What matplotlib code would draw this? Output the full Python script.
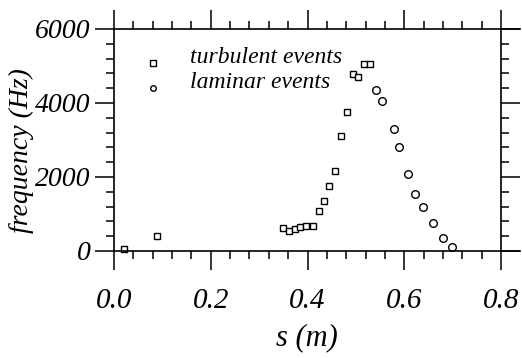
import matplotlib
matplotlib.use("Agg")
import matplotlib.pyplot as plt
from matplotlib.ticker import MultipleLocator

# ---- data ----
turb_s = [0.021, 0.088, 0.350, 0.362, 0.374, 0.385, 0.397, 0.412, 0.424, 0.434,
          0.445, 0.457, 0.469, 0.481, 0.493, 0.504, 0.516, 0.528]
turb_f = [50, 410, 610, 550, 600, 640, 685, 685, 1090, 1355,
          1765, 2170, 3115, 3765, 4775, 4695, 5065, 5065]
lam_s = [0.542, 0.553, 0.578, 0.589, 0.607, 0.623, 0.639, 0.660, 0.679, 0.699]
lam_f = [4350, 4060, 3290, 2820, 2080, 1540, 1180, 765, 360, 100]

xticks = [0.0, 0.2, 0.4, 0.6, 0.8]
xticklabels = ["0.0", "0.2", "0.4", "0.6", "0.8"]
yticks = [0, 2000, 4000, 6000]
yticklabels = ["0", "2000", "4000", "6000"]
legend_labels = ["turbulent events", "laminar events"]
xlabel = "s (m)"
ylabel = "frequency (Hz)"

FONT = "Liberation Serif"
W, H = 522, 358
fig = plt.figure(figsize=(W / 100, H / 100), dpi=100)
ax = fig.add_axes([114 / W, 1 - 251 / H, 406 / W, 222 / H])

XMAX = 0.839
ax.set_xlim(0, XMAX)
ax.set_ylim(0, 6000)

mk = dict(linestyle="none", markerfacecolor="white", markeredgecolor="black",
          markeredgewidth=1.0, clip_on=False)
ax.plot(turb_s, turb_f, marker="s", markersize=5.0, **mk)
ax.plot(lam_s, lam_f, marker="o", markersize=5.5, **mk)

# spines
for side in ["left", "top", "bottom"]:
    ax.spines[side].set_linewidth(1.2)
ax.spines["right"].set_visible(False)

ax.set_xticks(xticks)
ax.set_xticklabels(xticklabels)
ax.set_yticks(yticks)
ax.set_yticklabels(yticklabels)
ax.xaxis.set_minor_locator(MultipleLocator(0.04))
ax.yaxis.set_minor_locator(MultipleLocator(400))
ax.tick_params(which="both", direction="out", top=True, right=False, width=1.1)
ax.tick_params(which="major", length=14)
ax.tick_params(which="minor", length=6)
ax.tick_params(axis="x", which="major", pad=13)
ax.tick_params(axis="y", which="major", pad=3)

for lab in ax.get_xticklabels():
    lab.set_fontfamily(FONT); lab.set_fontstyle("italic"); lab.set_fontsize(21)
for lab in ax.get_yticklabels():
    lab.set_fontfamily(FONT); lab.set_fontstyle("italic"); lab.set_fontsize(20)

# right axis at x = 0.8 (the horizontal lines run past it)
sec = ax.secondary_yaxis(0.8 / XMAX)
sec.set_yticks(yticks)
sec.yaxis.set_minor_locator(MultipleLocator(400))
sec.tick_params(which="both", direction="out", labelright=False, width=1.1)
sec.tick_params(which="major", length=14)
sec.tick_params(which="minor", length=6)
sec.spines["right"].set_linewidth(1.2)
sec.set_yticklabels([])

# legend drawn by hand
leg_y = [0.847, 0.734]
ax.plot([0.096], [leg_y[0]], marker="s", markersize=4, transform=ax.transAxes, **mk)
ax.plot([0.096], [leg_y[1]], marker="o", markersize=4, transform=ax.transAxes, **mk)
for yy, txt in zip(leg_y, legend_labels):
    ax.text(0.187, yy, txt, transform=ax.transAxes, fontfamily=FONT,
            fontstyle="italic", fontsize=17, va="baseline", ha="left")

fig.text(307 / W, 1 - 338 / H, xlabel, fontfamily=FONT, fontstyle="italic",
         fontsize=22, ha="center", va="center")
fig.text(21 / W, 1 - 151 / H, ylabel, fontfamily=FONT, fontstyle="italic",
         fontsize=20, ha="center", va="center", rotation=90)

fig.savefig("out.png", dpi=100)
